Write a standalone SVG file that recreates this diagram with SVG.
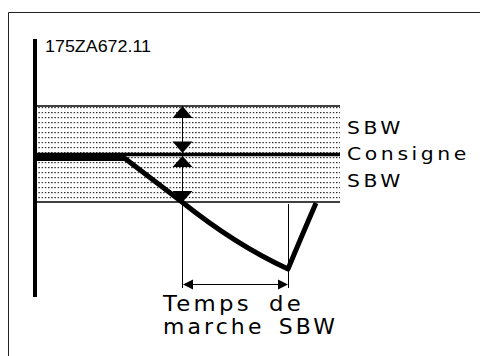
<svg xmlns="http://www.w3.org/2000/svg" width="480" height="356" viewBox="0 0 480 356">
<defs>
<pattern id="dots" patternUnits="userSpaceOnUse" x="0" y="107" width="3.2" height="5">
<rect x="0" y="0" width="1.4" height="1.2" fill="#222"/>
</pattern>
<style>
.t{font-family:"Liberation Sans",Arial,sans-serif;fill:#000}
.w{font-family:"DejaVu Sans","Liberation Sans",sans-serif;fill:#000;letter-spacing:3px}
.thin{stroke:#000;stroke-width:1;fill:none}
.head{fill:#000;stroke:none}
</style>
</defs>
<rect width="480" height="356" fill="#fff"/>
<g id="frame">
<path d="M8.5,356 V12.5 H480" stroke="#222" stroke-width="1" fill="none"/>
</g>
<g id="band">
<rect x="37" y="106" width="303" height="96" fill="url(#dots)"/>
<line x1="37" y1="106" x2="340" y2="106" stroke="#000" stroke-width="1.5"/>
<line x1="37" y1="202" x2="340" y2="202" stroke="#000" stroke-width="1.5"/>
<line x1="37" y1="154.5" x2="340" y2="154.5" stroke="#000" stroke-width="3.5"/>
</g>
<g id="axis">
<line x1="35" y1="39" x2="35" y2="297" stroke="#000" stroke-width="4"/>
</g>
<g id="label-code"><text class="t" x="45" y="52" font-size="16" textLength="106" lengthAdjust="spacingAndGlyphs">175ZA672.11</text></g>
<g id="connectors">
<line class="thin" x1="182.5" y1="106" x2="182.5" y2="288"/>
<line class="thin" x1="288.5" y1="204" x2="288.5" y2="288"/>
<line class="thin" x1="190" y1="284.5" x2="281" y2="284.5"/>
<polygon class="head" points="182.5,106 172.5,118 192.5,118"/>
<polygon class="head" points="182.5,153 172.5,141.5 192.5,141.5"/>
<polygon class="head" points="182.5,156 172.5,167 192.5,167"/>
<polygon class="head" points="182.5,202 172.5,191 192.5,191"/>
<polygon class="head" points="183,284.5 193,279.5 193,289.5"/>
<polygon class="head" points="288,284.5 278,279.5 278,289.5"/>
</g>
<g id="curve">
<path d="M37,158.5 H125 L182,202 Q235,244.5 288,269 Q300,240 316,203" stroke="#000" stroke-width="5" fill="none" stroke-linejoin="round"/>
</g>
<g id="label-sbw-top"><text class="w" x="347" y="134" font-size="17" textLength="57" lengthAdjust="spacingAndGlyphs">SBW</text></g>
<g id="label-consigne"><text class="w" x="347" y="160" font-size="17" textLength="123" lengthAdjust="spacingAndGlyphs">Consigne</text></g>
<g id="label-sbw-bottom"><text class="w" x="347" y="187" font-size="17" textLength="57" lengthAdjust="spacingAndGlyphs">SBW</text></g>
<g id="label-temps">
<text class="w" x="163" y="311" font-size="21" textLength="141" lengthAdjust="spacingAndGlyphs" word-spacing="6">Temps de</text>
<text class="w" x="163" y="334" font-size="21" textLength="175" lengthAdjust="spacingAndGlyphs" word-spacing="4">marche SBW</text>
</g>
</svg>
